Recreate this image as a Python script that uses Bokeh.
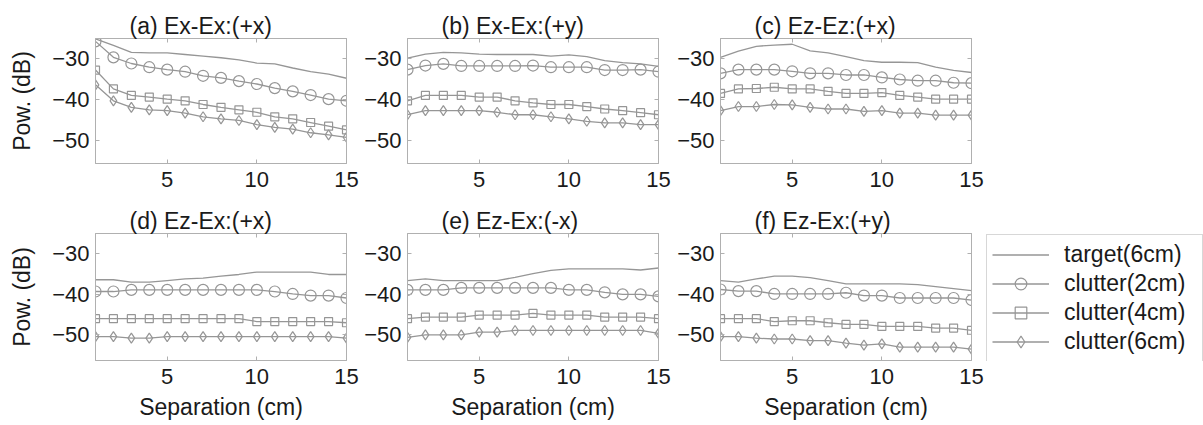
from bokeh.plotting import figure
from bokeh.layouts import row, column
from bokeh.models import Range1d, FixedTicker, Legend, LegendItem, Title, LinearAxis
from bokeh.embed import file_html
from bokeh.resources import INLINE

sep = list(range(1, 16))
x_ticks = [5, 10, 15]
y_ticks = [-30, -40, -50]
series_names = ["target(6cm)", "clutter(2cm)", "clutter(4cm)", "clutter(6cm)"]
titles = ["(a) Ex-Ex:(+x)", "(b) Ex-Ex:(+y)", "(c) Ez-Ez:(+x)",
          "(d) Ez-Ex:(+x)", "(e) Ez-Ex:(-x)", "(f) Ez-Ex:(+y)"]

target_a = [-25.1, -26.7, -28.4, -28.5, -28.5, -28.9, -29.3, -29.7, -30.2, -31.0, -31.2, -32.2, -33.1, -33.7, -34.7]
c2_a = [-25.7, -29.6, -31.1, -32.0, -32.6, -33.1, -34.1, -34.6, -35.4, -36.1, -37.1, -37.9, -38.8, -39.8, -40.2]
c4_a = [-32.7, -37.3, -38.9, -39.3, -39.8, -40.2, -41.1, -41.8, -42.4, -43.0, -44.1, -44.6, -45.5, -46.4, -47.3]
c6_a = [-36.3, -40.2, -41.8, -42.4, -42.6, -43.2, -44.1, -44.6, -45.0, -46.0, -46.7, -47.1, -48.0, -48.5, -49.1]

target_b = [-29.8, -28.8, -28.4, -28.5, -28.8, -28.9, -28.9, -28.9, -29.3, -29.0, -29.4, -30.4, -30.9, -31.2, -31.8]
c2_b = [-32.6, -31.6, -31.2, -31.7, -31.7, -31.7, -31.7, -31.6, -32.0, -32.0, -32.0, -32.7, -32.7, -32.6, -33.1]
c4_b = [-40.2, -38.9, -38.9, -38.9, -39.3, -39.3, -40.2, -40.7, -41.1, -41.1, -41.6, -42.2, -42.6, -43.1, -43.6]
c6_b = [-43.6, -42.6, -42.6, -42.6, -42.6, -43.0, -43.6, -43.6, -44.1, -44.6, -45.2, -45.6, -45.6, -46.0, -46.0]

target_c = [-29.6, -28.1, -26.9, -26.6, -26.4, -28.0, -28.5, -29.4, -30.4, -30.8, -30.8, -30.9, -32.0, -32.8, -33.3]
c2_c = [-33.5, -32.6, -32.6, -32.6, -33.0, -33.5, -33.5, -33.9, -33.9, -34.5, -35.0, -35.3, -35.3, -35.8, -35.9]
c4_c = [-38.4, -37.3, -37.2, -36.9, -37.3, -37.3, -37.9, -38.4, -38.4, -38.2, -38.9, -39.3, -39.8, -39.8, -39.8]
c6_c = [-42.6, -41.6, -41.6, -41.1, -41.2, -41.8, -42.2, -42.2, -42.8, -42.6, -43.2, -43.2, -43.7, -43.7, -43.7]

target_d = [-36.4, -36.4, -37.0, -37.0, -36.6, -36.2, -36.0, -35.5, -35.1, -34.5, -34.5, -34.5, -34.5, -35.1, -35.1]
c2_d = [-39.3, -39.3, -38.9, -38.9, -38.9, -38.9, -38.9, -38.9, -38.9, -38.9, -39.3, -39.9, -40.3, -40.3, -40.9]
c4_d = [-46.0, -46.0, -46.0, -46.0, -46.0, -46.0, -46.0, -46.0, -46.0, -46.7, -46.7, -46.7, -46.7, -46.7, -47.0]
c6_d = [-50.4, -50.4, -50.8, -50.8, -50.4, -50.4, -50.4, -50.4, -50.4, -50.4, -50.4, -50.4, -50.4, -50.4, -50.8]

target_e = [-36.6, -36.2, -36.6, -36.6, -36.6, -36.6, -35.8, -34.9, -34.1, -33.7, -33.7, -33.7, -33.7, -34.0, -33.5]
c2_e = [-38.9, -38.9, -38.9, -38.4, -38.4, -38.4, -38.4, -38.4, -38.4, -38.9, -38.9, -39.5, -40.0, -40.0, -40.5]
c4_e = [-46.0, -45.6, -45.6, -45.6, -45.1, -45.1, -45.1, -44.7, -45.1, -45.1, -45.1, -45.6, -45.6, -45.6, -46.0]
c6_e = [-50.6, -50.0, -50.0, -50.0, -49.3, -49.3, -48.9, -48.9, -48.9, -48.9, -48.9, -48.9, -48.9, -48.9, -49.6]

target_f = [-36.6, -37.0, -36.2, -35.5, -35.5, -35.9, -36.6, -37.4, -37.4, -37.4, -37.4, -37.6, -38.1, -38.6, -39.1]
c2_f = [-38.8, -39.2, -39.2, -39.9, -39.9, -39.9, -39.9, -39.6, -40.3, -40.3, -40.9, -40.9, -40.9, -40.9, -41.4]
c4_f = [-46.0, -46.0, -46.0, -46.7, -46.5, -46.5, -47.0, -47.4, -47.4, -47.9, -47.9, -47.9, -48.3, -48.3, -48.9]
c6_f = [-50.4, -50.4, -50.8, -51.0, -51.0, -51.4, -51.4, -52.0, -52.5, -52.2, -53.0, -53.0, -53.0, -53.0, -53.5]

FONT = "Liberation Sans"
TXT = "#1a1a1a"
LINE = "#969696"
FRAME = "#b0b0b0"
TICK_FS = "22px"
LAB_FS = "23px"


def style_axis(ax, standoff, show_labels=True):
    ax.axis_line_color = FRAME
    ax.major_tick_line_color = FRAME
    ax.major_tick_in = 4
    ax.major_tick_out = 0
    ax.minor_tick_line_color = None
    ax.major_label_text_font = FONT
    ax.major_label_standoff = standoff
    ax.axis_label_text_font = FONT
    ax.axis_label_text_color = TXT
    ax.axis_label_text_font_style = "normal"
    ax.axis_label_text_font_size = LAB_FS
    if show_labels:
        ax.major_label_text_color = TXT
        ax.major_label_text_font_size = TICK_FS
    else:
        # mirrored tick marks only: labels are not drawn
        ax.major_label_text_color = None
        ax.major_label_text_font_size = "4px"


def draw_series(p, tgt, c2, c4, c6, sizes=(11, 8, 10)):
    r0 = p.line(sep, tgt, line_color=LINE, line_width=1.3)
    l1 = p.line(sep, c2, line_color=LINE, line_width=1.3)
    m1 = p.scatter(sep, c2, marker="circle", size=sizes[0], line_color=LINE, fill_color=None, line_width=1.2)
    l2 = p.line(sep, c4, line_color=LINE, line_width=1.3)
    m2 = p.scatter(sep, c4, marker="square", size=sizes[1], line_color=LINE, fill_color=None, line_width=1.2)
    l3 = p.line(sep, c6, line_color=LINE, line_width=1.3)
    m3 = p.scatter(sep, c6, marker="diamond", size=sizes[2], line_color=LINE, fill_color=None, line_width=1.2)
    return [[r0], [l1, m1], [l2, m2], [l3, m3]]


def make_panel(title, tgt, c2, c4, c6, top_row, first, border_left, border_right=15):
    fh = 125 if top_row else 127
    yr = Range1d(-55.5, -25) if top_row else Range1d(-56.3, -25)
    p = figure(frame_width=251, frame_height=fh, x_range=Range1d(1, 15), y_range=yr,
               output_backend="svg", toolbar_location=None,
               min_border_left=border_left, min_border_right=border_right,
               min_border_top=38 if top_row else 28,
               min_border_bottom=42 if top_row else 65,
               background_fill_color="white", border_fill_color="white",
               outline_line_color=FRAME)
    p.grid.visible = False
    p.title = Title(text=title, align="left", offset=34, text_font=FONT, text_font_size=LAB_FS,
                    text_font_style="normal", text_color=TXT, standoff=0)
    p.xaxis.ticker = FixedTicker(ticks=x_ticks)
    p.yaxis.ticker = FixedTicker(ticks=y_ticks)
    style_axis(p.xaxis[0], 8)
    style_axis(p.yaxis[0], 6)
    if first:
        p.yaxis.axis_label = "Pow. (dB)"
        p.yaxis.axis_label_standoff = 14
    if not top_row:
        p.xaxis.axis_label = "Separation (cm)"
        p.xaxis.axis_label_standoff = 7

    ra = LinearAxis(ticker=FixedTicker(ticks=y_ticks))
    style_axis(ra, 4, show_labels=False)
    p.add_layout(ra, "right")
    ta = LinearAxis(ticker=FixedTicker(ticks=x_ticks))
    style_axis(ta, 0, show_labels=False)
    p.add_layout(ta, "above")

    draw_series(p, tgt, c2, c4, c6)
    return p


def make_legend_fig():
    # a frame exactly around the legend box; its series lie outside the visible y range
    q = figure(frame_width=218, frame_height=128, x_range=Range1d(1, 15), y_range=Range1d(0, 1),
               x_axis_location=None, y_axis_location=None,
               output_backend="svg", toolbar_location=None,
               min_border_left=0, min_border_right=0, min_border_top=26, min_border_bottom=66,
               outline_line_color=None, background_fill_color="white", border_fill_color="white")
    q.grid.visible = False
    rends = draw_series(q, target_f, c2_f, c4_f, c6_f, sizes=(8, 6, 7))
    items = [LegendItem(label=name, renderers=r) for name, r in zip(series_names, rends)]
    leg = Legend(items=items, location="top_left", margin=1, padding=5,
                 spacing=0, label_height=29, glyph_height=29, glyph_width=57,
                 label_standoff=15, label_width=133,
                 label_text_font=FONT, label_text_font_size="23px", label_text_color=TXT,
                 border_line_color=FRAME, border_line_width=1.2,
                 background_fill_color="white", background_fill_alpha=1)
    q.add_layout(leg)
    return q


pa = make_panel(titles[0], target_a, c2_a, c4_a, c6_a, True, True, 95)
pb = make_panel(titles[1], target_b, c2_b, c4_b, c6_b, True, False, 46)
pc = make_panel(titles[2], target_c, c2_c, c4_c, c6_c, True, False, 47)
pd = make_panel(titles[3], target_d, c2_d, c4_d, c6_d, False, True, 95)
pe = make_panel(titles[4], target_e, c2_e, c4_e, c6_e, False, False, 46)
pf = make_panel(titles[5], target_f, c2_f, c4_f, c6_f, False, False, 47, border_right=14)
pl = make_legend_fig()

layout = column(row(pa, pb, pc, spacing=0), row(pd, pe, pf, pl, spacing=0), spacing=0)

open("out.html", "w").write(file_html(layout, INLINE))
